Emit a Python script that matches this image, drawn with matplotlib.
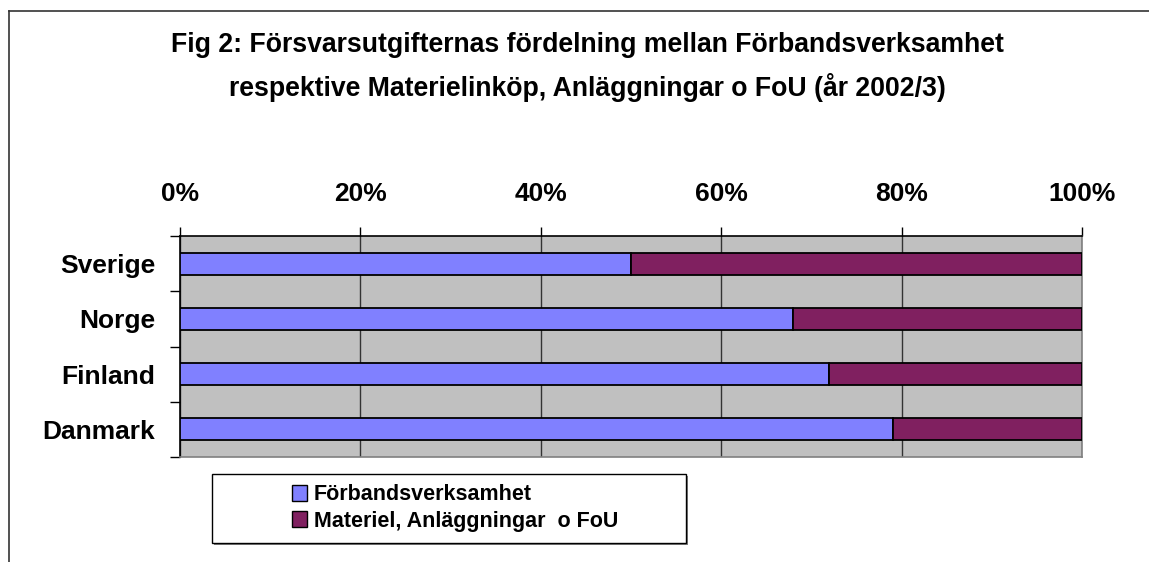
import matplotlib
matplotlib.use("Agg")
import matplotlib.pyplot as plt
from matplotlib.patches import Rectangle, Patch
from matplotlib.lines import Line2D
from matplotlib.ticker import FuncFormatter

# Data
COUNTRIES = ["Sverige", "Norge", "Finland", "Danmark"]
FORBAND = [50, 68, 72, 79]
MATERIEL = [50, 32, 28, 21]
SERIES_LABELS = ["Förbandsverksamhet", "Materiel, Anläggningar  o FoU"]
X_TICKS = [0, 20, 40, 60, 80, 100]
TITLE_LINES = ["Fig 2: Försvarsutgifternas fördelning mellan Förbandsverksamhet",
               "respektive Materielinköp, Anläggningar o FoU (år 2002/3)"]

BLUE = "#8080FF"
MAROON = "#802060"
PLOT_BG = "#C0C0C0"

plt.rcParams['font.family'] = ['Liberation Sans', 'DejaVu Sans']
plt.rcParams['font.weight'] = 'bold'

W, H = 1149, 562
fig = plt.figure(figsize=(W / 100, H / 100), dpi=100)
fig.patch.set_facecolor("white")

# outer chart border (only left and top visible)
fig.add_artist(Line2D([9 / W, 9 / W], [0, 1 - 11 / H], transform=fig.transFigure,
                      color="#333333", lw=1.2))
fig.add_artist(Line2D([9 / W, 1], [1 - 11 / H, 1 - 11 / H], transform=fig.transFigure,
                      color="#333333", lw=1.2))

for line, ypix in zip(TITLE_LINES, [45, 87]):
    fig.text(587 / W, 1 - ypix / H, line, ha="center", va="center",
             fontsize=19.2, fontweight="bold")

ax = fig.add_axes([180 / W, 1 - 457 / H, (1082 - 180) / W, (457 - 236) / H])
ax.set_facecolor(PLOT_BG)

y = list(range(len(COUNTRIES)))
ax.barh(y, FORBAND, height=0.4, color=BLUE, edgecolor="black", linewidth=1.3, zorder=3)
ax.barh(y, MATERIEL, left=FORBAND, height=0.4, color=MAROON, edgecolor="black",
        linewidth=1.3, zorder=3)

ax.set_xlim(0, 100)
ax.set_ylim(len(COUNTRIES) - 0.5, -0.5)

ax.xaxis.tick_top()
ax.set_xticks(X_TICKS)
ax.xaxis.set_major_formatter(FuncFormatter(lambda v, p: f"{v:.0f}%"))
ax.tick_params(axis="x", direction="out", length=6.5, width=1, pad=15,
               labelsize=19, color="black")
ax.set_yticks(y)
ax.set_yticklabels(COUNTRIES)
ax.set_yticks([i - 0.5 for i in range(len(COUNTRIES) + 1)], minor=True)
ax.tick_params(axis="y", which="major", length=0, pad=18, labelsize=19)
ax.tick_params(axis="y", which="minor", direction="out", length=7, width=1, color="black")
for t in ax.get_xticklabels() + ax.get_yticklabels():
    t.set_fontweight("bold")

ax.grid(axis="x", color="#333333", linewidth=1, zorder=1)
ax.set_axisbelow(True)

ax.spines["left"].set_color("black")
ax.spines["top"].set_color("black")
ax.spines["right"].set_color("#808080")
ax.spines["bottom"].set_color("#808080")
for s in ax.spines.values():
    s.set_linewidth(1.2)

# legend frame with shadow
fig.add_artist(Rectangle((214 / W, 1 - 545 / H), (686 - 212) / W, (543 - 474) / H,
                         transform=fig.transFigure, facecolor="#808080",
                         edgecolor="none", zorder=1))
fig.add_artist(Rectangle((212 / W, 1 - 543 / H), (686 - 212) / W, (543 - 474) / H,
                         transform=fig.transFigure, facecolor="white",
                         edgecolor="black", linewidth=1, zorder=2))

handles = [Patch(facecolor=BLUE, edgecolor="black", linewidth=1),
           Patch(facecolor=MAROON, edgecolor="black", linewidth=1)]
leg = fig.legend(handles, SERIES_LABELS, loc="center", bbox_to_anchor=(455 / W, 1 - 508 / H),
                 frameon=False, prop={"size": 15.5, "weight": "bold"},
                 handlelength=0.7, handleheight=0.8, handletextpad=0.3,
                 labelspacing=0.25, borderpad=0)
leg.set_zorder(3)

fig.savefig("out.png", dpi=100, facecolor="white")
